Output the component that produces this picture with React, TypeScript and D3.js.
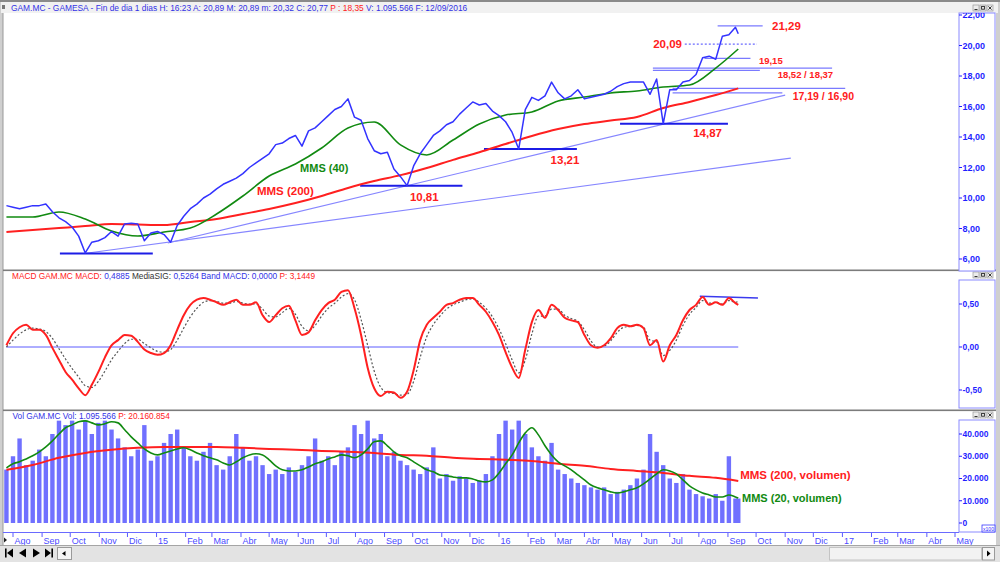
import React from "react";
import * as d3 from "d3";

const FONT = "'Liberation Sans', Arial, Helvetica, sans-serif";
const HDR_BLUE = "#3232e6";
const AXIS_BLUE = "#1f1fff";
const RED = "#ff2020";
const GREEN = "#118a11";

// weekly sessions from 25/07/2014, last value = 12/09/2016
const firstWeek = new Date(2014, 6, 25);
const lastSession = new Date(2016, 8, 12);

const closes = [
  9.5, 9.4, 9.3, 9.4, 9.5, 9.5, 9.6, 9.1, 8.7, 8.45,
  8.1, 7.5, 6.4, 7.1, 7.2, 7.4, 7.8, 7.5, 8.3, 8.35,
  8.3, 7.2, 7.7, 7.8, 7.6, 7.1, 8.2, 8.8, 9.3, 9.6,
  10.0, 10.25, 10.6, 10.9, 11.1, 11.3, 11.6, 12.0, 12.3, 12.6,
  12.9, 13.5, 13.6, 13.9, 14.1, 13.4, 14.4, 14.6, 15.0, 15.4,
  15.8, 16.0, 16.5, 15.3, 15.1, 13.9, 13.1, 12.9, 13.0, 11.9,
  11.4, 10.81, 12.1, 12.9, 13.5, 14.1, 14.4, 14.8, 15.0, 15.5,
  15.9, 16.3, 16.1, 16.2, 15.7, 15.4, 15.0, 14.3, 13.21, 15.8,
  16.6, 16.4, 16.7, 17.6, 16.9, 16.5, 16.7, 17.1, 16.5, 16.6,
  16.7, 16.8, 17.0, 17.3, 17.5, 17.6, 17.6, 17.6, 16.8, 17.8,
  14.87, 17.1, 17.1, 17.6, 17.7, 18.1, 19.2, 19.3, 19.1, 20.6,
  20.7, 21.2, 20.77,
];

// moving averages, every 4 weeks (last value = 12/09/2016)
const ma40 = [
  8.75, 8.75, 9.08, 8.62, 7.84, 7.51, 7.77, 8.03, 8.95, 10.13,
  11.44, 12.23, 13.28, 14.59, 14.98, 13.48, 12.82, 13.8, 14.85, 15.44,
  15.64, 16.36, 16.62, 16.89, 17.02, 17.28, 17.41, 18.52, 19.77,
];
const ma200 = [
  7.77, 7.9, 8.03, 8.16, 8.3, 8.26, 8.23, 8.43, 8.62, 8.95,
  9.28, 9.67, 10.13, 10.66, 11.11, 11.5, 11.97, 12.5, 13.0, 13.54,
  14.07, 14.52, 14.85, 15.08, 15.31, 15.9, 16.3, 16.75, 17.19,
];

const macdLine = [
  0.02, 0.16, 0.23, 0.26, 0.2, 0.2, 0.14, -0.01, -0.15, -0.29,
  -0.38, -0.48, -0.56, -0.44, -0.29, -0.12, 0.02, 0.08, 0.14, 0.13,
  0.06, -0.03, -0.07, -0.09, -0.07, 0.02, 0.2, 0.37, 0.49, 0.55,
  0.57, 0.55, 0.52, 0.49, 0.52, 0.55, 0.49, 0.49, 0.52, 0.37,
  0.29, 0.37, 0.45, 0.48, 0.31, 0.14, 0.17, 0.31, 0.43, 0.51,
  0.55, 0.64, 0.66, 0.45, 0.14, -0.24, -0.48, -0.57, -0.52, -0.53,
  -0.59, -0.52, -0.27, 0.08, 0.26, 0.34, 0.41, 0.49, 0.51, 0.55,
  0.57, 0.57, 0.49, 0.41, 0.29, 0.14, -0.06, -0.24, -0.36, -0.03,
  0.29, 0.43, 0.34, 0.49, 0.43, 0.34, 0.31, 0.29, 0.14, 0.02,
  -0.01, 0.02, 0.1, 0.22, 0.26, 0.24, 0.26, 0.22, 0.02, 0.08,
  -0.17, 0.02, 0.14, 0.31, 0.43, 0.49, 0.58, 0.49, 0.52, 0.49,
  0.57, 0.51, 0.49,
];
const macdSignal = [
  0.0, 0.08, 0.15, 0.2, 0.22, 0.21, 0.18, 0.1, -0.02, -0.14,
  -0.25, -0.35, -0.45, -0.47, -0.4, -0.28, -0.15, -0.05, 0.04, 0.09,
  0.09, 0.04, -0.01, -0.05, -0.06, -0.03, 0.08, 0.22, 0.35, 0.45,
  0.52, 0.54, 0.53, 0.51, 0.51, 0.53, 0.51, 0.5, 0.5, 0.44,
  0.36, 0.35, 0.4, 0.45, 0.38, 0.24, 0.19, 0.25, 0.36, 0.45,
  0.51, 0.58, 0.62, 0.55, 0.32, 0.02, -0.28, -0.47, -0.53, -0.54,
  -0.56, -0.55, -0.4, -0.12, 0.12, 0.26, 0.36, 0.44, 0.49, 0.52,
  0.55, 0.56, 0.52, 0.45, 0.35, 0.21, 0.04, -0.15, -0.3, -0.15,
  0.15, 0.36, 0.36, 0.44, 0.44, 0.37, 0.33, 0.3, 0.2, 0.07,
  0.0, 0.01, 0.07, 0.17, 0.23, 0.24, 0.25, 0.23, 0.08, 0.06,
  -0.1, -0.04, 0.08, 0.25, 0.38, 0.46, 0.54, 0.51, 0.52, 0.5,
  0.54, 0.52, 0.53,
];

// volume in thousands of x100 shares
const volume = [
  24, 30, 38, 26, 28, 33, 30, 40, 46, 44,
  46, 42, 46, 40, 45, 46, 42, 38, 34, 30,
  33, 44, 28, 30, 36, 40, 42, 34, 30, 28,
  32, 36, 26, 24, 30, 40, 34, 28, 30, 26,
  22, 24, 22, 25, 23, 26, 30, 38, 28, 30,
  26, 32, 34, 44, 40, 46, 38, 40, 30, 32,
  28, 26, 24, 22, 25, 34, 20, 22, 19, 21,
  20, 18, 19, 22, 30, 40, 46, 42, 46, 40,
  34, 30, 28, 36, 24, 22, 20, 18, 17, 16,
  15, 16, 13, 14, 15, 17, 20, 24, 40, 32,
  26, 20, 18, 22, 15, 13, 12, 11, 13, 10,
  30, 11, 11,
];
const volMa20 = [
  24.8, 26.6, 27.5, 28.8, 30.2, 32, 34.2, 36.9, 40, 42.8,
  44.1, 45.5, 45.9, 45, 44.1, 44.6, 45.5, 45, 41.9, 38.7,
  36, 33.3, 31.5, 30.6, 31.5, 32.4, 33.3, 33.8, 32.9, 31.5,
  30.2, 29.3, 28.4, 27, 26.1, 27.5, 29.3, 30.6, 31.1, 30.6,
  28.4, 25.7, 23.9, 23.4, 23.4, 23.9, 25.2, 26.6, 27.5, 28.8,
  29.7, 30.6, 30.2, 29.3, 30.6, 33.3, 36.5, 36.9, 34.7, 32,
  30.2, 29.3, 27.5, 25.7, 23.9, 23, 21.6, 21.2, 20.7, 20.3,
  20.3, 19.8, 18.9, 18.5, 19.4, 22.5, 26.6, 30.6, 36, 40.5,
  42.8, 39.6, 34.7, 30.6, 27.5, 25.7, 23.9, 21.6, 19.4, 17.1,
  15.8, 14.9, 14, 13.5, 14, 14.9, 15.8, 17.6, 19.8, 22.1,
  23.9, 23.4, 22.1, 19.4, 16.7, 14.9, 13.5, 12.6, 11.7, 11.7,
  12.6, 11.7, 11.2,
];
const volMa200 = [
  23.9, 26.1, 29.3, 31.5, 32.9, 33.8, 34.2, 34.2, 34.2, 33.8,
  33.3, 32.9, 32.4, 32, 31.5, 30.6, 30.2, 29.3, 28.8, 28.4,
  27.9, 26.6, 25.7, 24.3, 23.4, 22.5, 21.2, 20.3, 18.9,
];

const monthNames = ["Ene", "Feb", "Mar", "Abr", "May", "Jun", "Jul", "Ago", "Sep", "Oct", "Nov", "Dic"];
const priceTicks = [6, 8, 10, 12, 14, 16, 18, 20, 22];
const macdTicks = [-0.5, 0, 0.5];
const volTicks = [0, 10, 20, 30, 40];

// horizontal price levels drawn on the chart
const levelValues = [21.29, 20.09, 19.15, 18.52, 18.37, 17.19, 16.9, 14.87, 13.21, 10.81, 6.36];
const levelStarts = ["2016-08-21", "2016-07-17", "2016-08-07", "2016-06-13", "2016-06-13", "2016-07-04", "2016-07-04", "2016-05-09", "2015-12-16", "2015-08-06", "2014-09-20"];
const levelEnds = ["2016-10-08", "2016-10-02", "2016-09-25", "2016-12-21", "2016-10-05", "2017-01-04", "2016-10-29", "2016-09-01", "2016-03-24", "2015-11-23", "2014-12-28"];
const levelKinds = ["thin", "dotted", "thin", "thin", "thin", "thin", "thin", "support", "support", "support", "support"];

// trend lines
const trendStarts = ["2014-10-16", "2015-01-13"];
const trendStartValues = [6.36, 7.05];
const trendEnds = ["2016-11-07", "2016-11-01"];
const trendEndValues = [12.62, 16.75];

// MACD resistance
const macdResStart = ["2016-08-02", 0.59] as const;
const macdResEnd = ["2016-10-03", 0.57] as const;

const priceNotes = [
  { text: "21,29", date: "2016-10-18", value: 21.29, kind: "big", anchor: "start" },
  { text: "20,09", date: "2016-07-14", value: 20.09, kind: "big", anchor: "end" },
  { text: "19,15", date: "2016-10-04", value: 19.02, kind: "small", anchor: "start" },
  { text: "18,52 / 18,37", date: "2016-10-24", value: 18.1, kind: "small", anchor: "start" },
  { text: "17,19 / 16,90", date: "2016-11-09", value: 16.69, kind: "mid", anchor: "start" },
  { text: "14,87", date: "2016-07-26", value: 14.26, kind: "big", anchor: "start" },
  { text: "13,21", date: "2016-02-25", value: 12.49, kind: "big", anchor: "start" },
  { text: "10,81", date: "2015-09-28", value: 10.07, kind: "big", anchor: "start" },
  { text: "MMS (40)", date: "2015-06-03", value: 11.97, kind: "green", anchor: "start" },
  { text: "MMS (200)", date: "2015-04-18", value: 10.46, kind: "big", anchor: "start" },
];
const volNotes = [
  { text: "MMS (200, volumen)", date: "2016-09-14", value: 21.6, kind: "big" },
  { text: "MMS (20, volumen)", date: "2016-09-16", value: 11.3, kind: "green" },
];

const es = d3.formatLocale({ decimal: ",", thousands: ".", grouping: [3], currency: ["", " €"], minus: "-" });
const fmt2 = es.format(".2f");
const fmtVol = es.format(",");

function WinButtons({ y }: { y: number }) {
  return (
    <g>
      {[0, 1, 2].map((k) => (
        <rect key={k} x={973 + k * 7} y={y} width={6} height={6} fill="#ececec" stroke="#8c8c8c" strokeWidth={0.6} />
      ))}
      <line x1={974.5} x2={977.5} y1={y + 4.6} y2={y + 4.6} stroke="#222" strokeWidth={1} />
      <rect x={981.6} y={y + 1.4} width={2.8} height={2.8} fill="none" stroke="#222" strokeWidth={0.9} />
      <path d={`M${988.4},${y + 1.4}l3.2,3.2m0,-3.2l-3.2,3.2`} stroke="#222" strokeWidth={0.9} />
    </g>
  );
}

export default function App() {
  const parse = d3.timeParse("%Y-%m-%d");
  const weekDates = d3.range(112).map((i) => d3.timeDay.offset(firstWeek, i * 7));
  const dates = [...weekDates, lastSession];
  const coarseDates = [...d3.range(0, 112, 4).map((i) => weekDates[i]), lastSession];

  const x = d3.scaleTime().domain([new Date(2014, 7, 1), new Date(2017, 4, 1)]).range([13, 955]);
  const yP = d3.scaleLinear().domain([6, 22]).range([259, 15]);
  const yM = d3.scaleLinear().domain([-0.5, 0.5]).range([390, 304]);
  const yV = d3.scaleLinear().domain([0, 40]).range([523, 434]);

  const path = (ds: Date[], vs: number[], y: (v: number) => number, curve: d3.CurveFactory = d3.curveLinear) =>
    d3
      .line<number>()
      .x((_, i) => x(ds[i]))
      .y((v) => y(v))
      .curve(curve)(vs) || "";

  const months = d3.timeMonth.range(new Date(2014, 7, 1), new Date(2017, 4, 2));

  const levelStyle = (kind: string) => {
    if (kind === "support") return { stroke: "#1c1ce6", strokeWidth: 2 };
    if (kind === "dotted") return { stroke: "#6a6aff", strokeWidth: 1.2, strokeDasharray: "2,2" };
    return { stroke: "#7a7aff", strokeWidth: 1.3 };
  };
  const noteStyle = (kind: string) => {
    if (kind === "small") return { fill: RED, fontSize: 9.5 };
    if (kind === "mid") return { fill: RED, fontSize: 10.5 };
    if (kind === "green") return { fill: GREEN, fontSize: 11 };
    return { fill: RED, fontSize: 11.5 };
  };

  return (
    <svg width={1000} height={562} style={{ position: "absolute", left: 0, top: 0 }} fontFamily={FONT}>
      <defs>
        <clipPath id="clipP">
          <rect x={3} y={13} width={955} height={257} />
        </clipPath>
        <clipPath id="clipM">
          <rect x={3} y={280} width={955} height={129} />
        </clipPath>
        <clipPath id="clipV">
          <rect x={3} y={420} width={955} height={111} />
        </clipPath>
        <clipPath id="clipAxP">
          <rect x={959} y={13} width={36} height={258} />
        </clipPath>
      </defs>

      {/* window chrome */}
      <rect x={0} y={0} width={1000} height={562} fill="#cfcfcf" />
      <rect x={0} y={0} width={1000} height={2} fill="#8a8a8a" />
      <rect x={1} y={2} width={997} height={11} fill="#f1f1f1" />
      <rect x={3} y={13} width={993} height={533} fill="#ffffff" />
      <rect x={2.5} y={13} width={1} height={533} fill="#9a9a9a" />
      <rect x={2} y={5} width={3} height={4} fill="#777" />
      <rect x={3} y={269.5} width={993} height={1.6} fill="#7c7c7c" />
      <rect x={3} y={409.5} width={993} height={1.6} fill="#7c7c7c" />

      {/* headers */}
      <text x={11} y={10.5} fontSize={8.4} fill={HDR_BLUE}>
        {"GAM.MC - GAMESA - Fin de dia 1 dias H: 16:23 A: 20,89 M: 20,89 m: 20,32 C: 20,77 "}
        <tspan fill={RED}>{"P : 18,35"}</tspan>
        {" V: 1.095.566 F: 12/09/2016"}
      </text>
      <text x={12} y={278.5} fontSize={8.3} fill={HDR_BLUE}>
        <tspan fill={RED}>{"MACD  GAM.MC MACD: "}</tspan>
        {"0,4885 "}
        <tspan fill="#333">{"MediaSIG: "}</tspan>
        {"0,5264  Band  MACD: 0,0000 "}
        <tspan fill={RED}>{"P: 3,1449"}</tspan>
      </text>
      <text x={12.5} y={418.5} fontSize={8.3} fill={HDR_BLUE}>
        {"Vol  GAM.MC Vol: 1.095.566 "}
        <tspan fill={RED}>{"P: 20.160.854"}</tspan>
      </text>
      <WinButtons y={5} />
      <WinButtons y={272} />
      <WinButtons y={412} />

      {/* axis boxes */}
      <rect x={959} y={13} width={36} height={258} fill="#fff" stroke="#8a8aff" strokeWidth={1} />
      <rect x={959} y={280} width={36} height={128} fill="#fff" stroke="#8a8aff" strokeWidth={1} />
      <rect x={959} y={420} width={36} height={112} fill="#fff" stroke="#8a8aff" strokeWidth={1} />

      {/* value axes */}
      <g clipPath="url(#clipAxP)">
        {priceTicks.map((t) => (
          <g key={t}>
            <line x1={959} x2={962} y1={yP(t)} y2={yP(t)} stroke={AXIS_BLUE} />
            <text x={962.5} y={yP(t)} dy="0.35em" fontSize={9} fontWeight="bold" fill={AXIS_BLUE}>
              {fmt2(t)}
            </text>
          </g>
        ))}
      </g>
      {macdTicks.map((t) => (
        <g key={t}>
          <line x1={959} x2={962} y1={yM(t)} y2={yM(t)} stroke={AXIS_BLUE} />
          <text x={962.5} y={yM(t)} dy="0.35em" fontSize={8.5} fontWeight="bold" fill={AXIS_BLUE}>
            {fmt2(t)}
          </text>
        </g>
      ))}
      {volTicks.map((t) => (
        <g key={t}>
          <line x1={959} x2={962} y1={yV(t)} y2={yV(t)} stroke={AXIS_BLUE} />
          <text x={962.5} y={yV(t)} dy="0.35em" fontSize={8.5} fontWeight="bold" fill={AXIS_BLUE}>
            {fmtVol(t * 1000)}
          </text>
        </g>
      ))}
      <rect x={982} y={525} width={13} height={7} fill="#fff" stroke={AXIS_BLUE} strokeWidth={0.7} />
      <text x={988.5} y={530.5} fontSize={5} textAnchor="middle" fill={AXIS_BLUE}>
        x100
      </text>

      {/* price panel */}
      <g clipPath="url(#clipP)">
        {trendStarts.map((s, i) => (
          <line
            key={s}
            x1={x(parse(s)!)}
            y1={yP(trendStartValues[i])}
            x2={x(parse(trendEnds[i])!)}
            y2={yP(trendEndValues[i])}
            stroke="#8686ff"
            strokeWidth={1.2}
          />
        ))}
        {levelValues.map((v, i) => (
          <line
            key={i}
            x1={x(parse(levelStarts[i])!)}
            x2={x(parse(levelEnds[i])!)}
            y1={yP(v)}
            y2={yP(v)}
            {...levelStyle(levelKinds[i])}
          />
        ))}
        <path d={path(coarseDates, ma200, yP, d3.curveMonotoneX)} fill="none" stroke={RED} strokeWidth={2} />
        <path d={path(coarseDates, ma40, yP, d3.curveMonotoneX)} fill="none" stroke={GREEN} strokeWidth={1.6} />
        <path d={path(dates, closes, yP)} fill="none" stroke="#3333ff" strokeWidth={1.5} strokeLinejoin="round" />
      </g>
      {priceNotes.map((n) => (
        <text
          key={n.text}
          x={x(parse(n.date)!)}
          y={yP(n.value)}
          dy="0.35em"
          textAnchor={n.anchor}
          fontWeight="bold"
          {...noteStyle(n.kind)}
        >
          {n.text}
        </text>
      ))}

      {/* MACD panel */}
      <g clipPath="url(#clipM)">
        <line x1={x(dates[0])} x2={x(lastSession)} y1={yM(0)} y2={yM(0)} stroke="#5c5cff" strokeWidth={1} />
        <line
          x1={x(parse(macdResStart[0])!)}
          y1={yM(macdResStart[1])}
          x2={x(parse(macdResEnd[0])!)}
          y2={yM(macdResEnd[1])}
          stroke="#3a3aee"
          strokeWidth={1.5}
        />
        <path d={path(dates, macdSignal, yM, d3.curveMonotoneX)} fill="none" stroke="#555" strokeWidth={1.2} strokeDasharray="2,2" />
        <path d={path(dates, macdLine, yM, d3.curveMonotoneX)} fill="none" stroke={RED} strokeWidth={2} />
      </g>

      {/* volume panel */}
      <g clipPath="url(#clipV)">
        {volume.map((v, i) => (
          <rect key={i} x={x(dates[i]) - 2.2} width={4.4} y={yV(v)} height={yV(0) - yV(v)} fill="#7070ff" />
        ))}
        <path d={path(coarseDates, volMa200, yV, d3.curveMonotoneX)} fill="none" stroke={RED} strokeWidth={2} />
        <path d={path(dates, volMa20, yV, d3.curveMonotoneX)} fill="none" stroke={GREEN} strokeWidth={1.6} />
      </g>
      {volNotes.map((n) => (
        <text key={n.text} x={x(parse(n.date)!)} y={yV(n.value)} dy="0.35em" fontWeight="bold" {...noteStyle(n.kind)}>
          {n.text}
        </text>
      ))}

      {/* time axis */}
      <line x1={3} x2={959} y1={532.5} y2={532.5} stroke="#6a6aff" strokeWidth={1} />
      {months.map((m) => (
        <g key={+m}>
          <line x1={x(m)} x2={x(m)} y1={533} y2={537} stroke="#5a5aff" />
          <text x={x(m) + 1.5} y={544} fontSize={9} fill="#4a4aff">
            {m.getMonth() === 0 ? d3.timeFormat("%y")(m) : monthNames[m.getMonth()]}
          </text>
        </g>
      ))}
      <path d="M4,537.5l3,2.5l-3,2.5z" fill="#222" />

      {/* bottom toolbar */}
      <rect x={0} y={545.5} width={1000} height={16.5} fill="#e3e3e3" />
      <line x1={0} x2={1000} y1={545.5} y2={545.5} stroke="#a5a5a5" />
      <rect x={5} y={548.5} width={1.6} height={9} fill="#000" />
      <path d="M7,553l6,-4.5v9z" fill="#000" />
      <path d="M19,553l7,-4.5v9z" fill="#000" />
      <path d="M33,548.5l7,4.5l-7,4.5z" fill="#000" />
      <path d="M45,548.5l6,4.5l-6,4.5z" fill="#000" />
      <rect x={51.4} y={548.5} width={1.6} height={9} fill="#000" />
      <rect x={57.5} y={547.5} width={14} height={12} fill="#f4f4f4" stroke="#9a9a9a" />
      <path d="M62,553.5l3.5,-2.5v5z" fill="#000" />
      <rect x={829.5} y={547.5} width={152} height={12.5} fill="#f2f2f2" stroke="#c4c4c4" />
      <rect x={982.5} y={547.5} width={12} height={12.5} fill="#f4f4f4" stroke="#9a9a9a" />
      <path d="M987,550.5l3.5,3l-3.5,3z" fill="#000" />
    </svg>
  );
}
